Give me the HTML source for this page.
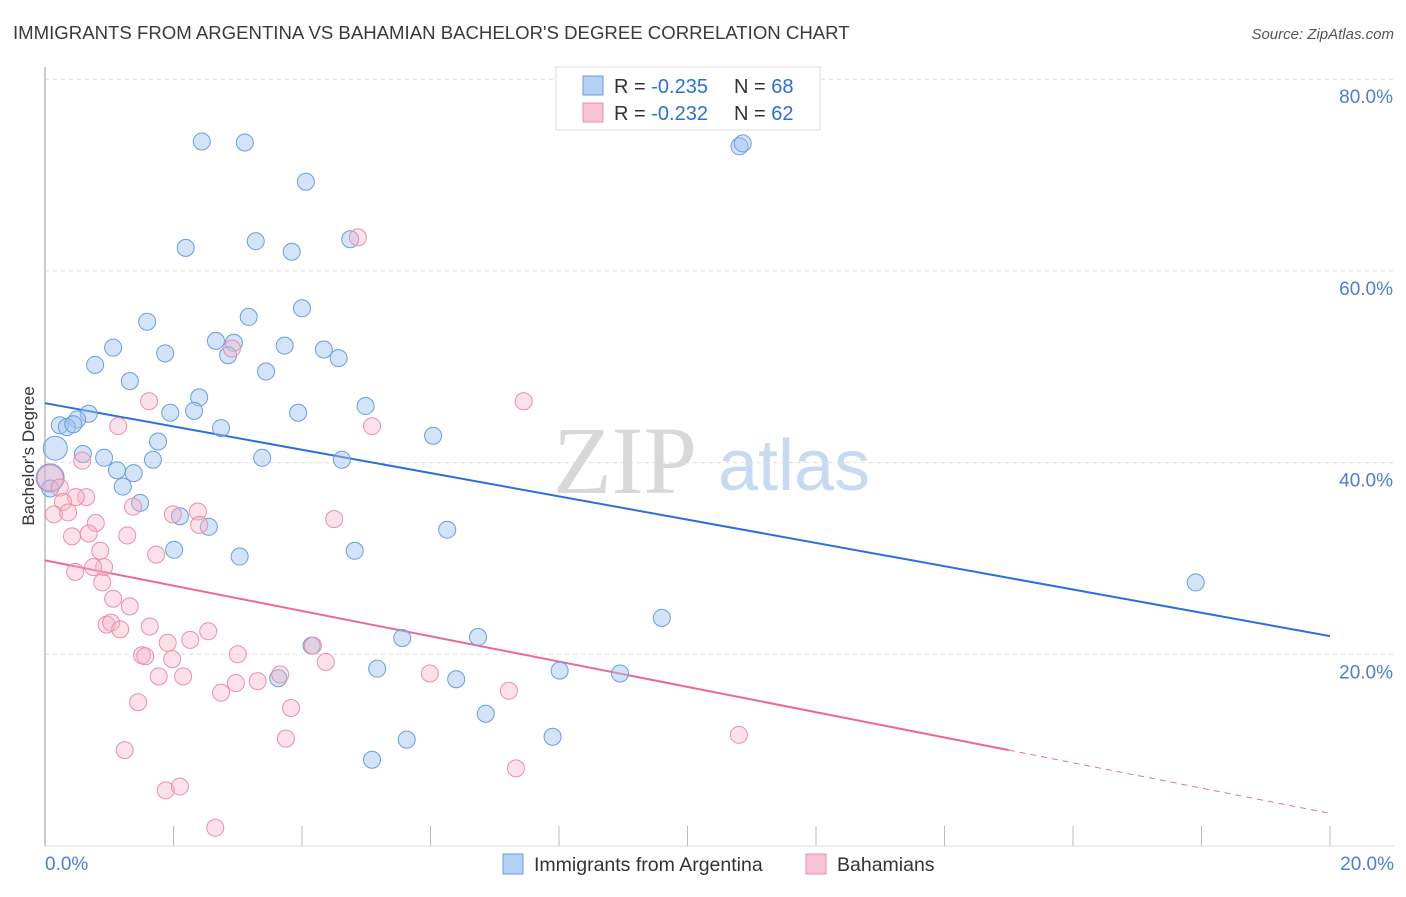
<!DOCTYPE html>
<html><head><meta charset="utf-8"><style>
body{margin:0;background:#fff;font-family:"Liberation Sans",sans-serif;}
svg text{font-family:"Liberation Sans",sans-serif;}
</style></head><body>
<svg id="chart" width="1406" height="892" xmlns="http://www.w3.org/2000/svg">
<text x="13" y="39" font-size="18.6" fill="#3a3a3a">IMMIGRANTS FROM ARGENTINA VS BAHAMIAN BACHELOR'S DEGREE CORRELATION CHART</text>
<text x="1394" y="39" font-size="15" fill="#555" text-anchor="end" font-style="italic">Source: ZipAtlas.com</text>
<g>
<text x="553" y="493" font-size="96" fill="#d8d8d8" font-family="Liberation Serif" style="font-family:'Liberation Serif',serif">ZIP</text>
<text x="718" y="490" font-size="72" fill="#c8daf2">atlas</text>
</g>
<g id="grid"></g>
<line x1="45" y1="67" x2="45" y2="846" stroke="#bbb" stroke-width="1.5"/>
<line x1="45" y1="846" x2="1394" y2="846" stroke="#ddd" stroke-width="1"/>
<g id="xticks"></g>
<g id="trend"></g>
<g id="pts"></g>
<text transform="translate(34,456) rotate(-90)" font-size="17" fill="#333" text-anchor="middle">Bachelor's Degree</text>
<text x="45" y="870" font-size="19" fill="#4a7fd8">0.0%</text>
<text x="1394" y="870" font-size="19" fill="#4a7fd8" text-anchor="end">20.0%</text>
<g>
<rect x="556" y="67" width="264" height="63" fill="#fff" stroke="#ddd"/>
<rect x="583" y="76" width="20" height="19" fill="#b5d0f5" stroke="#6a9de0"/>
<rect x="583" y="103" width="20" height="19" fill="#f9c4d4" stroke="#e890ab"/>
<text x="614" y="93" font-size="20" fill="#333">R = <tspan fill="#2a6fdb">-0.235</tspan></text>
<text x="734" y="93" font-size="20" fill="#333">N = <tspan fill="#2a6fdb">68</tspan></text>
<text x="614" y="120" font-size="20" fill="#333">R = <tspan fill="#2a6fdb">-0.232</tspan></text>
<text x="734" y="120" font-size="20" fill="#333">N = <tspan fill="#2a6fdb">62</tspan></text>
</g>
<g>
<rect x="503" y="854" width="20" height="20" fill="#b5d0f5" stroke="#6a9de0"/>
<text x="534" y="871" font-size="19.5" fill="#333">Immigrants from Argentina</text>
<rect x="806" y="854" width="20" height="20" fill="#f9c4d4" stroke="#e890ab"/>
<text x="837" y="871" font-size="19.5" fill="#333">Bahamians</text>
</g>
</svg>
<script>
const yTicks=[20,40,60,80];
const yTickLabels=["20.0%","40.0%","60.0%","80.0%"];
const blueX=[2.44,3.11,10.81,10.86,4.06,2.19,3.28,3.84,4.75,4.00,1.59,3.17,1.06,2.66,2.94,1.87,2.85,3.73,4.34,4.57,0.78,3.44,1.32,2.40,1.95,2.32,3.94,4.99,0.68,0.50,0.23,0.34,0.44,0.16,2.74,1.76,6.04,0.59,0.92,1.12,1.68,3.38,4.62,1.38,1.21,1.48,2.10,2.55,6.26,2.01,3.03,4.82,0.08,17.91,9.60,4.15,5.56,6.74,5.17,8.01,8.95,3.63,6.40,6.86,7.90,5.63,5.09,0.08];
const blueY=[73.5,73.4,73.0,73.3,69.3,62.4,63.1,62.0,63.3,56.1,54.7,55.2,52.0,52.7,52.5,51.4,51.2,52.2,51.8,50.9,50.2,49.5,48.5,46.8,45.2,45.4,45.2,45.9,45.1,44.5,43.9,43.7,44.0,41.5,43.6,42.2,42.8,40.9,40.5,39.2,40.3,40.5,40.3,38.9,37.5,35.8,34.4,33.3,33.0,30.9,30.2,30.8,38.4,27.5,23.8,20.9,21.7,21.8,18.5,18.3,18.0,17.5,17.4,13.8,11.4,11.1,9.0,37.3];
const pinkX=[4.87,7.45,1.62,1.14,5.09,2.91,0.58,0.08,0.23,0.64,0.48,0.28,0.14,0.36,0.79,1.37,1.99,2.38,2.40,4.50,0.42,0.68,1.28,0.86,1.73,0.92,0.75,0.47,0.89,1.06,1.32,1.63,0.96,1.03,1.17,2.26,1.91,2.54,1.51,1.56,3.00,1.98,4.17,4.37,1.77,2.15,3.66,5.99,2.97,2.74,3.31,7.22,1.45,3.83,3.75,10.80,1.24,7.33,1.88,2.10,2.65];
const pinkY=[63.5,46.4,46.4,43.8,43.8,51.9,40.2,38.4,37.4,36.4,36.4,35.9,34.6,34.8,33.7,35.4,34.6,34.9,33.5,34.1,32.3,32.6,32.4,30.8,30.4,29.1,29.1,28.6,27.5,25.8,25.0,22.9,23.1,23.3,22.6,21.5,21.2,22.4,19.9,19.8,20.0,19.5,20.9,19.2,17.7,17.7,17.9,18.0,17.0,16.0,17.2,16.2,15.0,14.4,11.2,11.6,10.0,8.1,5.8,6.2,1.9];
const blueTrend=[46.2,21.9];
const pinkTrend=[29.8,3.4];
const pinkSolidEnd=15.0;

const NS="http://www.w3.org/2000/svg";
const sx=v=>45+v/20*1285;
const sy=v=>846-v/20*191.7;
function mk(tag,attrs,parent){const e=document.createElementNS(NS,tag);for(const k in attrs)e.setAttribute(k,attrs[k]);parent.appendChild(e);return e;}
const grid=document.getElementById('grid');
yTicks.forEach((t,i)=>{
  const l=mk('line',{x1:45,x2:1394,y1:sy(t),y2:sy(t),stroke:'#ddd','stroke-dasharray':'4,4'},grid);
  
  
  const tx=mk('text',{x:1393,y:sy(t)+24,'font-size':19,fill:'#4a7fd8','text-anchor':'end'},grid);
  tx.textContent=yTickLabels[i];
  
  
});
const xt=document.getElementById('xticks');
for(let i=1;i<=10;i++){
  const l=mk('line',{x1:sx(i*2),x2:sx(i*2),y1:826,y2:846,stroke:'#bbb'},xt);
  
  
}
const pts=document.getElementById('pts');
blueX.forEach((x,i)=>{
  let r=8.5; if(i===33)r=12; if(i===52)r=14;
  const c=mk('circle',{cx:sx(x),cy:sy(blueY[i]),r:r,fill:'rgba(160,196,240,0.45)',stroke:'#6a9de0','stroke-width':1},pts);
  
  
});
pinkX.forEach((x,i)=>{
  let r=8.5; if(i===7)r=13;
  const c=mk('circle',{cx:sx(x),cy:sy(pinkY[i]),r:r,fill:'rgba(248,180,200,0.4)',stroke:'#e890ab','stroke-width':1},pts);
  
  
});
const tr=document.getElementById('trend');
const bl=mk('line',{x1:sx(0),y1:sy(blueTrend[0]),x2:sx(20),y2:sy(blueTrend[1]),stroke:'#2a6fdb','stroke-width':2},tr);


const pAt=x=>pinkTrend[0]+(pinkTrend[1]-pinkTrend[0])*x/20;
const pl=mk('line',{x1:sx(0),y1:sy(pinkTrend[0]),x2:sx(pinkSolidEnd),y2:sy(pAt(pinkSolidEnd)),stroke:'#e8699a','stroke-width':2},tr);


const pd=mk('line',{x1:sx(pinkSolidEnd),y1:sy(pAt(pinkSolidEnd)),x2:sx(20),y2:sy(pinkTrend[1]),stroke:'#e8699a','stroke-width':1,'stroke-dasharray':'6,5'},tr);


</script>
</body></html>
